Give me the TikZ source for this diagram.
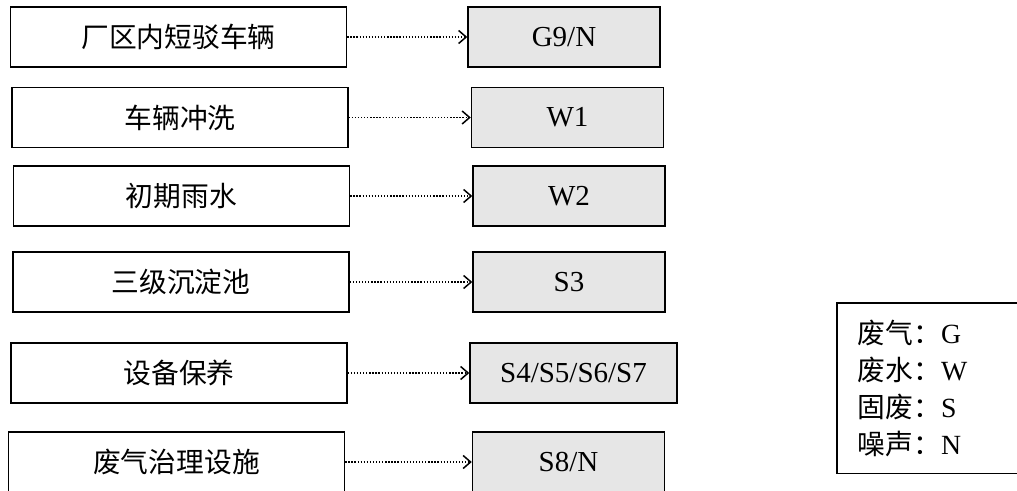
\documentclass[tikz,border=0pt]{standalone}
\usepackage{fontspec}
\setmainfont{Liberation Serif}
\newfontfamily\cjk{Noto Sans CJK SC}
\usetikzlibrary{arrows.meta}
\definecolor{shade}{HTML}{E6E6E6}

\tikzset{
  srcbox/.style={draw,line width=0.03cm,minimum width=6.72cm,minimum height=1.2cm,inner sep=0pt},
  outbox/.style={draw,line width=0.03cm,fill=shade,minimum width=3.84cm,minimum height=1.2cm,inner sep=0pt},
  flow/.style={line width=0.03cm,dash pattern=on 0.75pt off 1pt,-{Straight Barb[length=0.15cm,width=0.26cm]}}
}

\begin{document}
\begin{tikzpicture}[x=0.02cm,y=-0.02cm,every node/.style={font=\fontsize{15.8}{21}\selectfont}]
\useasboundingbox (0,0) rectangle (1017,490);
\clip (0,0) rectangle (1017,490);
% sources
\node[srcbox] (l1) at (178.5,37) {\cjk 厂区内短驳车辆};
\node[srcbox] (l2) at (180,117.5) {\cjk 车辆冲洗};
\node[srcbox] (l3) at (181.5,196) {\cjk 初期雨水};
\node[srcbox] (l4) at (181,282) {\cjk 三级沉淀池};
\node[srcbox] (l5) at (179,373) {\cjk 设备保养};
\node[srcbox] (l6) at (176.5,462) {\cjk 废气治理设施};
% pollutants
\node[outbox] (r1) at (564,37) {\fontsize{16.5}{21}\selectfont G9/N};
\node[outbox] (r2) at (567.5,117.5) {\fontsize{16.5}{21}\selectfont W1};
\node[outbox] (r3) at (569,196) {\fontsize{16.5}{21}\selectfont W2};
\node[outbox] (r4) at (569,282) {\fontsize{16.5}{21}\selectfont S3};
\node[outbox,minimum width=4.14cm] (r5) at (573.5,373) {\fontsize{16.5}{21}\selectfont S4/S5/S6/S7};
\node[outbox] (r6) at (568.5,462) {\fontsize{16.5}{21}\selectfont S8/N};
\draw[flow] (l1) -- (r1);
\draw[flow] (l2) -- (r2);
\draw[flow] (l3) -- (r3);
\draw[flow] (l4) -- (r4);
\draw[flow] (l5) -- (r5);
\draw[flow] (l6) -- (r6);
% legend
\node[draw,line width=0.03cm,anchor=north west,minimum height=3.42cm,text width=3.6cm,inner xsep=0.42cm,align=left] (key) at (836,302)
  {{\cjk 废气：}G\\{\cjk 废水：}W\\{\cjk 固废：}S\\{\cjk 噪声：}N};
\end{tikzpicture}
\end{document}
